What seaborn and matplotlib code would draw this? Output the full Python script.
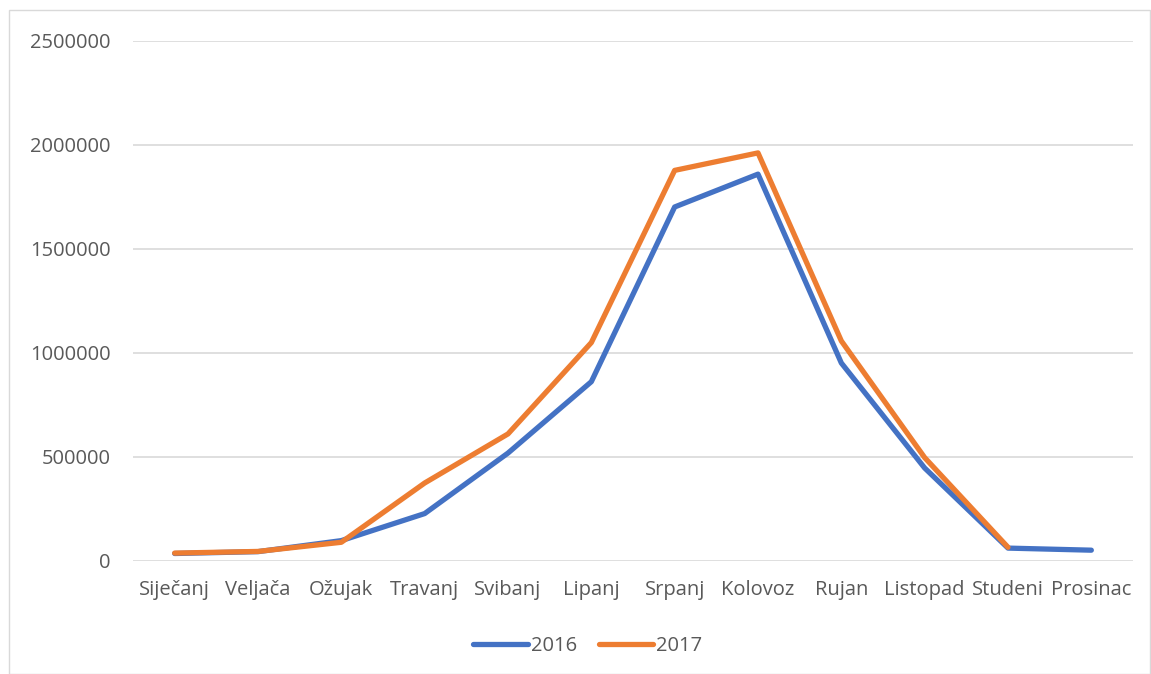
import matplotlib
matplotlib.use("Agg")
import matplotlib.pyplot as plt
import seaborn as sns
import pandas as pd
from matplotlib.patches import Rectangle

# Monthly values
months = ['Siječanj', 'Veljača', 'Ožujak', 'Travanj', 'Svibanj', 'Lipanj',
          'Srpanj', 'Kolovoz', 'Rujan', 'Listopad', 'Studeni', 'Prosinac']
values_2016 = [36000, 45000, 98000, 228000, 519000, 862000,
               1702000, 1860000, 952000, 447000, 62000, 52000]
values_2017 = [38000, 46000, 90000, 375000, 611000, 1050000,
               1878000, 1962000, 1058000, 497000, 66000, None]
years = ['2016', '2017']
colors = ['#4472C4', '#ED7D31']

# Long format table for seaborn
rows = []
for m, v in zip(months, values_2016):
    rows.append({'month': m, 'value': v, 'year': '2016'})
for m, v in zip(months, values_2017):
    if v is not None:
        rows.append({'month': m, 'value': v, 'year': '2017'})
df = pd.DataFrame(rows)

sns.set_style('white')
plt.rcParams['font.family'] = ['Open Sans', 'DejaVu Sans']

fig = plt.figure(figsize=(11.51, 6.74), dpi=100)
ax = fig.add_axes([133 / 1151, 1 - 561 / 674, 1000 / 1151, 520 / 674])

sns.lineplot(data=df, x='month', y='value', hue='year', hue_order=years,
             palette=colors, linewidth=3.8, sort=False, ax=ax)
for line in ax.lines:
    line.set_solid_capstyle('round')
    line.set_solid_joinstyle('round')

ax.set_xlim(-0.5, len(months) - 0.5)
ax.set_ylim(0, 2500000)
ax.set_yticks(range(0, 2500001, 500000))
ax.set_yticklabels([str(v) for v in range(0, 2500001, 500000)])
ax.set_xticks(range(len(months)))
ax.set_xticklabels(months)
ax.set_xlabel('')
ax.set_ylabel('')
ax.grid(axis='y', color='#d9d9d9', linewidth=1.2)
ax.set_axisbelow(True)
for s in ax.spines.values():
    s.set_visible(False)
ax.tick_params(axis='both', length=0, labelsize=14.5, labelcolor='#595959')
ax.tick_params(axis='y', pad=16)
ax.tick_params(axis='x', pad=14)

leg = ax.legend(loc='upper center', bbox_to_anchor=(0.455, -0.11), ncol=2,
                frameon=False, fontsize=14.5, handlelength=2.7,
                handletextpad=0.15, columnspacing=1.1)
for t in leg.get_texts():
    t.set_color('#595959')
for h in leg.legend_handles:
    h.set_linewidth(3.8)
    h.set_solid_capstyle('round')

# light frame around the chart area
fig.patches.append(Rectangle((9 / 1151, 0), 1 - 9 / 1151 - 0.001, 1 - 10 / 674,
                             transform=fig.transFigure, fill=False,
                             edgecolor='#d9d9d9', linewidth=1))

fig.savefig('out.png', dpi=100)
